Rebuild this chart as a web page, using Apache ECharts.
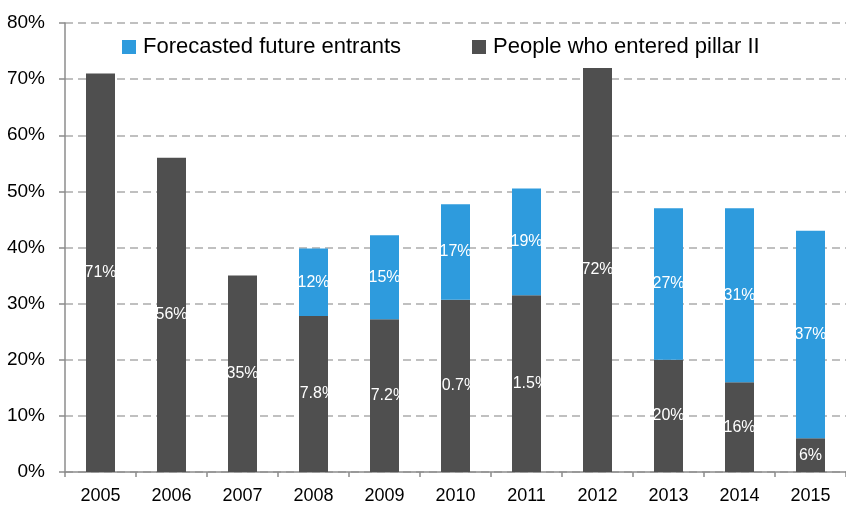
<!DOCTYPE html>
<html>
<head>
<meta charset="utf-8">
<title>Pillar II entrants</title>
<script src="https://cdn.jsdelivr.net/npm/echarts@6/dist/echarts.min.js"></script>
<style>
  html, body { margin: 0; padding: 0; background: #ffffff; }
  #chart { width: 846px; height: 505px; }
</style>
</head>
<body>
<div id="chart"></div>
<script>
// Years on the category axis
const years = ['2005', '2006', '2007', '2008', '2009', '2010', '2011', '2012', '2013', '2014', '2015'];
// Share of people who entered pillar II (%)
const entered = [71, 56, 35, 27.8, 27.2, 30.7, 31.5, 72, 20, 16, 6];
// Forecasted future entrants (%), none shown for the earlier years and 2012
const forecasted = [null, null, null, 12, 15, 17, 19, null, 27, 31, 37];
// Value axis ticks
const yTicks = [0, 10, 20, 30, 40, 50, 60, 70, 80];

const FONT = "'Liberation Sans', Arial, sans-serif";
const DARK = '#4f4f4f';
const BLUE = '#2e9bdd';
const AXIS = '#8c8c8c';

const chart = echarts.init(document.getElementById('chart'), null, { renderer: 'canvas' });

const pctLabel = {
  show: true,
  position: 'inside',
  color: '#ffffff',
  fontFamily: FONT,
  fontSize: 16,
  formatter: p => (p.value == null ? '' : p.value + '%')
};

chart.setOption({
  animation: false,
  backgroundColor: '#ffffff',
  textStyle: { fontFamily: FONT },
  grid: { left: 65, top: 23, width: 791, height: 449 },
  legend: {
    orient: 'horizontal',
    left: 117,
    top: 31,
    width: 720,
    itemWidth: 14,
    itemHeight: 14,
    itemGap: 71,
    icon: 'rect',
    data: ['Forecasted future entrants', 'People who entered pillar II'],
    textStyle: { fontFamily: FONT, fontSize: 22, color: '#000000', padding: [0, 0, 0, 2] }
  },
  xAxis: {
    type: 'category',
    data: years,
    axisLine: { lineStyle: { color: AXIS, width: 1.5 } },
    axisTick: { show: true, length: 5, lineStyle: { color: AXIS, width: 1.5 } },
    axisLabel: { color: '#000000', fontFamily: FONT, fontSize: 18, margin: 15 },
    splitLine: { show: false }
  },
  yAxis: {
    type: 'value',
    min: yTicks[0],
    max: yTicks[yTicks.length - 1],
    interval: yTicks[1] - yTicks[0],
    axisLine: { show: true, lineStyle: { color: AXIS, width: 1.5 } },
    axisTick: { show: true, length: 6, lineStyle: { color: AXIS, width: 1.5 } },
    axisLabel: { color: '#000000', fontFamily: FONT, fontSize: 19, margin: 20, formatter: '{value}%' },
    splitLine: { show: true, lineStyle: { color: '#c0c0c0', width: 2, type: [8, 5] } }
  },
  series: [
    {
      name: 'People who entered pillar II',
      type: 'bar',
      stack: 'total',
      barWidth: 29,
      data: entered,
      itemStyle: { color: DARK },
      label: pctLabel
    },
    {
      name: 'Forecasted future entrants',
      type: 'bar',
      stack: 'total',
      barWidth: 29,
      data: forecasted,
      itemStyle: { color: BLUE },
      label: pctLabel
    }
  ]
});
</script>
</body>
</html>
